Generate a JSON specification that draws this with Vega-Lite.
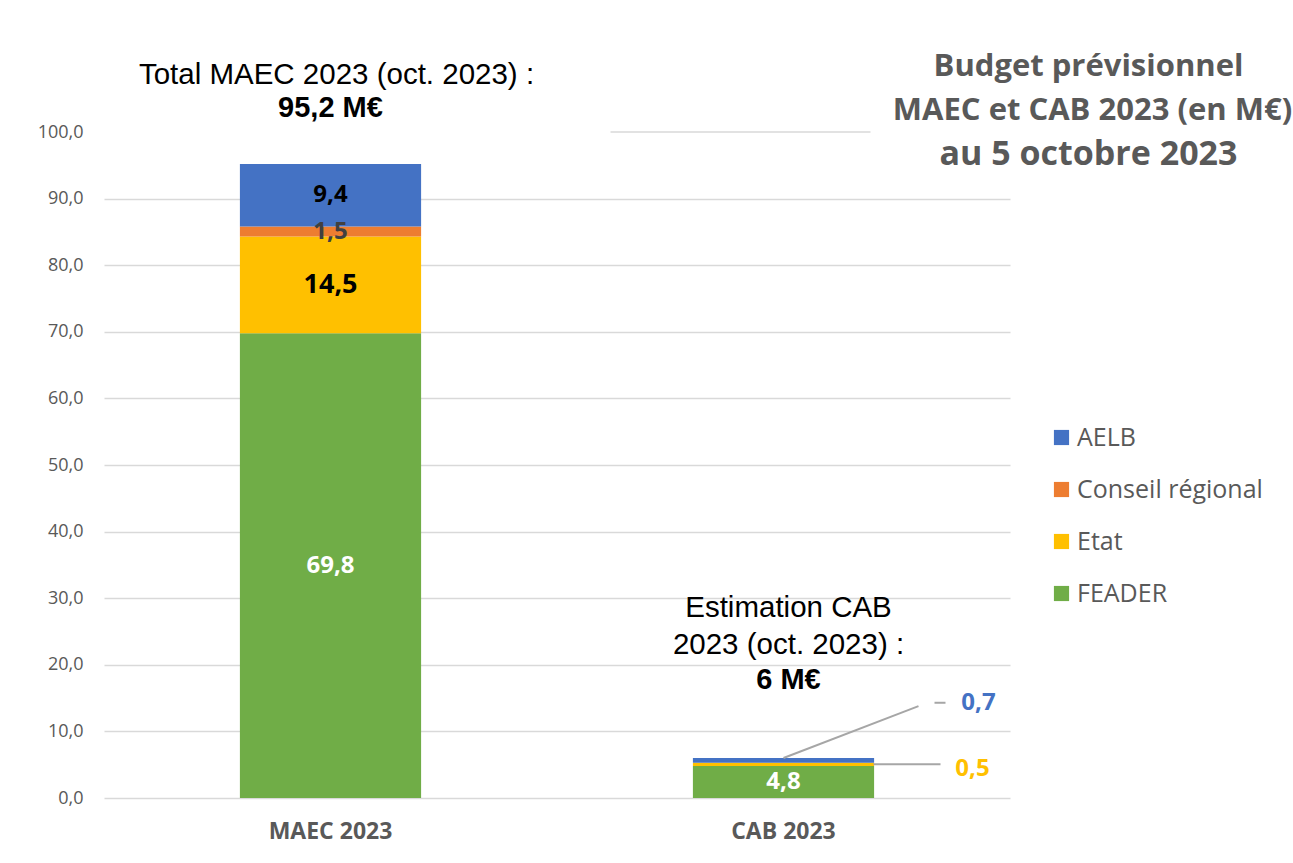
{
  "$schema": "https://vega.github.io/schema/vega-lite/v6.json",
  "width": 906,
  "height": 666,
  "autosize": "none",
  "padding": {"left": 104, "top": 132, "right": 283, "bottom": 65},
  "background": "white",
  "config": {"view": {"stroke": null}, "font": "Open Sans"},
  "data": {
    "values": [
      {"cat": "MAEC 2023", "source": "FEADER", "value": 69.8, "order": 1},
      {"cat": "MAEC 2023", "source": "Etat", "value": 14.5, "order": 2},
      {"cat": "MAEC 2023", "source": "Conseil régional", "value": 1.5, "order": 3},
      {"cat": "MAEC 2023", "source": "AELB", "value": 9.4, "order": 4},
      {"cat": "CAB 2023", "source": "FEADER", "value": 4.8, "order": 1},
      {"cat": "CAB 2023", "source": "Etat", "value": 0.5, "order": 2},
      {"cat": "CAB 2023", "source": "AELB", "value": 0.7, "order": 4}
    ]
  },
  "transform": [
    {"stack": "value", "groupby": ["cat"], "sort": [{"field": "order", "order": "ascending"}], "as": ["y0", "y1"]},
    {"calculate": "(datum.y0 + datum.y1) / 2", "as": "mid"},
    {"calculate": "replace(format(datum.value, '.1f'), '.', ',')", "as": "label"}
  ],
  "encoding": {
    "x": {
      "field": "cat",
      "type": "nominal",
      "sort": ["MAEC 2023", "CAB 2023"],
      "scale": {"paddingInner": 0.6, "paddingOuter": 0.3},
      "axis": {
        "title": null,
        "labelAngle": 0,
        "domain": false,
        "ticks": false,
        "labelFont": "Open Sans",
        "labelFontSize": 23,
        "labelFontWeight": "bold",
        "labelColor": "#595959",
        "labelPadding": 22
      }
    }
  },
  "layer": [
    {
      "mark": {"type": "bar"},
      "encoding": {
        "y": {
          "field": "y0",
          "type": "quantitative",
          "scale": {"domain": [0, 100], "nice": false},
          "axis": {
            "title": null,
            "values": [0, 10, 20, 30, 40, 50, 60, 70, 80, 90, 100],
            "labelExpr": "replace(format(datum.value, '.1f'), '.', ',')",
            "domain": false,
            "ticks": false,
            "labelFont": "Open Sans",
            "labelFontSize": 18,
            "labelColor": "#595959",
            "labelPadding": 21,
            "gridColor": {"condition": {"test": "datum.value === 100", "value": "transparent"}, "value": "#d9d9d9"},
            "gridWidth": 1.5
          }
        },
        "y2": {"field": "y1"},
        "color": {
          "field": "source",
          "type": "nominal",
          "scale": {
            "domain": ["AELB", "Conseil régional", "Etat", "FEADER"],
            "range": ["#4472C4", "#ED7D31", "#FFC000", "#70AD47"]
          },
          "legend": {
            "title": null,
            "orient": "none",
            "legendX": 945,
            "legendY": 293,
            "symbolType": "square",
            "symbolSize": 230,
            "symbolStrokeWidth": 0,
            "labelFont": "Open Sans",
            "labelFontSize": 25,
            "labelLimit": 400,
            "labelColor": "#595959",
            "labelOffset": 3,
            "rowPadding": 26
          }
        }
      }
    },
    {
      "transform": [{"filter": "datum.cat === 'MAEC 2023' || datum.source === 'FEADER'"}],
      "mark": {"type": "text", "font": "Open Sans", "fontWeight": "bold", "baseline": "middle"},
      "encoding": {
        "y": {"field": "mid", "type": "quantitative"},
        "text": {"field": "label"},
        "size": {"condition": {"test": "datum.source === 'Etat'", "value": 27}, "value": 24},
        "color": {
          "condition": [
            {"test": "datum.source === 'FEADER'", "value": "white"},
            {"test": "datum.source === 'Conseil régional'", "value": "#404040"}
          ],
          "value": "black"
        }
      }
    },
    {
      "transform": [{"filter": "datum.cat === 'CAB 2023' && datum.source === 'AELB'"}],
      "mark": {"type": "text", "font": "Open Sans", "fontWeight": "bold", "fontSize": 24, "baseline": "middle", "dx": 195, "color": "#4472C4"},
      "encoding": {"y": {"datum": 14.3}, "text": {"field": "label"}}
    },
    {
      "transform": [{"filter": "datum.cat === 'CAB 2023' && datum.source === 'Etat'"}],
      "mark": {"type": "text", "font": "Open Sans", "fontWeight": "bold", "fontSize": 24, "baseline": "middle", "dx": 189, "color": "#FFC000"},
      "encoding": {"y": {"datum": 4.4}, "text": {"field": "label"}}
    },
    {
      "data": {"values": [{}]},
      "mark": {"type": "rule", "color": "#a6a6a6", "strokeWidth": 2, "x2Offset": 135},
      "encoding": {"x": {"datum": "CAB 2023"}, "x2": {"datum": "CAB 2023"}, "y": {"datum": 6.0}, "y2": {"datum": 13.8}}
    },
    {
      "data": {"values": [{}]},
      "mark": {"type": "rule", "color": "#a6a6a6", "strokeWidth": 2, "xOffset": 151, "x2Offset": 162},
      "encoding": {"x": {"datum": "CAB 2023"}, "x2": {"datum": "CAB 2023"}, "y": {"datum": 14.3}, "y2": {"datum": 14.3}}
    },
    {
      "data": {"values": [{}]},
      "mark": {"type": "rule", "color": "#a6a6a6", "strokeWidth": 2, "xOffset": 90, "x2Offset": 157},
      "encoding": {"x": {"datum": "CAB 2023"}, "x2": {"datum": "CAB 2023"}, "y": {"datum": 5.05}, "y2": {"datum": 5.05}}
    },
    {
      "data": {"values": [{}]},
      "mark": {"type": "rule", "color": "#d9d9d9", "strokeWidth": 1.5, "xOffset": 280, "x2Offset": 540},
      "encoding": {"x": {"datum": "MAEC 2023"}, "x2": {"datum": "MAEC 2023"}, "y": {"datum": 100}, "y2": {"datum": 100}}
    },
    {
      "data": {"values": [{}]},
      "mark": {"type": "text", "font": "Liberation Sans", "fontSize": 29.5, "color": "black", "baseline": "middle", "dx": 6, "text": "Total MAEC 2023 (oct. 2023) :"},
      "encoding": {"x": {"datum": "MAEC 2023"}, "y": {"datum": 108.6}}
    },
    {
      "data": {"values": [{}]},
      "mark": {"type": "text", "font": "Liberation Sans", "fontSize": 29, "fontWeight": "bold", "color": "black", "baseline": "middle", "text": "95,2 M€"},
      "encoding": {"x": {"datum": "MAEC 2023"}, "y": {"datum": 103.6}}
    },
    {
      "data": {"values": [{}]},
      "mark": {"type": "text", "font": "Liberation Sans", "fontSize": 29.5, "color": "black", "baseline": "middle", "dx": 5, "text": "Estimation CAB"},
      "encoding": {"x": {"datum": "CAB 2023"}, "y": {"datum": 28.6}}
    },
    {
      "data": {"values": [{}]},
      "mark": {"type": "text", "font": "Liberation Sans", "fontSize": 29.5, "color": "black", "baseline": "middle", "dx": 5, "text": "2023 (oct. 2023) :"},
      "encoding": {"x": {"datum": "CAB 2023"}, "y": {"datum": 23.0}}
    },
    {
      "data": {"values": [{}]},
      "mark": {"type": "text", "font": "Liberation Sans", "fontSize": 29, "fontWeight": "bold", "color": "black", "baseline": "middle", "dx": 5, "text": "6 M€"},
      "encoding": {"x": {"datum": "CAB 2023"}, "y": {"datum": 17.7}}
    },
    {
      "data": {"values": [{}]},
      "mark": {"type": "text", "font": "Open Sans", "fontSize": 31, "fontWeight": "bold", "color": "#595959", "baseline": "middle", "dx": 305, "text": "Budget prévisionnel"},
      "encoding": {"x": {"datum": "CAB 2023"}, "y": {"datum": 109.7}}
    },
    {
      "data": {"values": [{}]},
      "mark": {"type": "text", "font": "Open Sans", "fontSize": 31, "fontWeight": "bold", "color": "#595959", "baseline": "middle", "dx": 309, "text": "MAEC et CAB 2023 (en M€)"},
      "encoding": {"x": {"datum": "CAB 2023"}, "y": {"datum": 103.2}}
    },
    {
      "data": {"values": [{}]},
      "mark": {"type": "text", "font": "Open Sans", "fontSize": 34, "fontWeight": "bold", "color": "#595959", "baseline": "middle", "dx": 305, "text": "au 5 octobre 2023"},
      "encoding": {"x": {"datum": "CAB 2023"}, "y": {"datum": 96.6}}
    }
  ]
}
